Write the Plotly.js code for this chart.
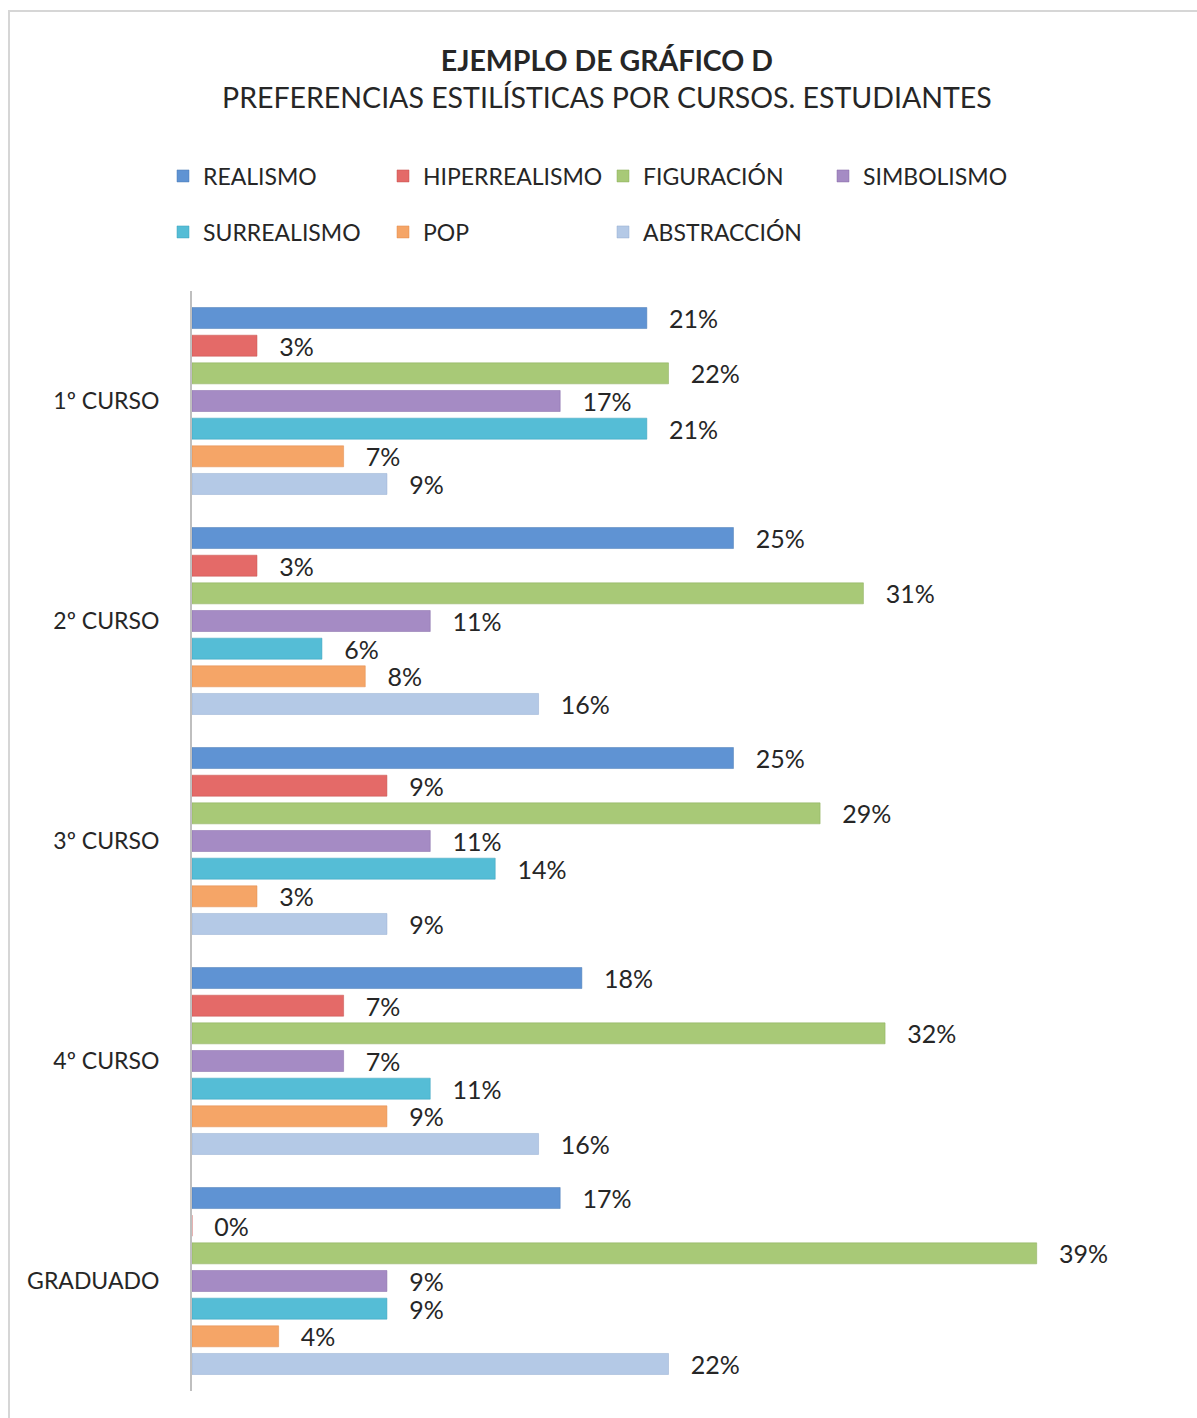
<!DOCTYPE html>
<html>
<head>
<meta charset="utf-8">
<script src="https://cdn.plot.ly/plotly-3.0.1.min.js"></script>
<style>
  html, body { margin: 0; padding: 0; background: #ffffff; }
  #wrap { position: relative; width: 1197px; height: 1418px; }
  #chart { width: 1197px; height: 1418px; }
  #frame { position: absolute; left: 8px; top: 10px; width: 1195px; height: 1420px;
           border: 2px solid #d6d6d6; box-sizing: border-box; pointer-events: none; }
</style>
</head>
<body>
<div id="wrap">
  <div id="chart"></div>
  <div id="frame"></div>
</div>
<script>
// ---- data ----
const categories = ['1º CURSO', '2º CURSO', '3º CURSO', '4º CURSO', 'GRADUADO'];
const seriesNames = ['REALISMO', 'HIPERREALISMO', 'FIGURACIÓN', 'SIMBOLISMO', 'SURREALISMO', 'POP', 'ABSTRACCIÓN'];
const realismo      = [21, 25, 25, 18, 17];
const hiperrealismo = [3, 3, 9, 7, 0];
const figuracion    = [22, 31, 29, 32, 39];
const simbolismo    = [17, 11, 11, 7, 9];
const surrealismo   = [21, 6, 14, 11, 9];
const pop           = [7, 8, 3, 9, 4];
const abstraccion   = [9, 16, 9, 16, 22];
const seriesValues = [realismo, hiperrealismo, figuracion, simbolismo, surrealismo, pop, abstraccion];

// ---- style ----
const colors = ['#5f93d3', '#e46a68', '#a8c977', '#a58bc4', '#55bdd6', '#f5a567', '#b4c9e6'];
const lineColors = ['#4a7ab5', '#c4504d', '#8aad5a', '#8468a6', '#3aa0ba', '#e08a4b', '#95acd0'];
const FONT = 'Lato, "Open Sans", "DejaVu Sans", sans-serif';
const TXT = '#262626';

const traces = seriesNames.map((name, i) => ({
  type: 'bar',
  orientation: 'h',
  name: name,
  y: categories,
  x: seriesValues[i],
  legend: i < 4 ? 'legend' : 'legend2',
  marker: { color: colors[i], line: { color: lineColors[i], width: 0.5 } },
  text: seriesValues[i].map(v => v + '%'),
  texttemplate: '\u00a0\u00a0\u00a0%{text}',
  textposition: 'outside',
  constraintext: 'none',
  cliponaxis: false,
  textfont: { family: FONT, size: 25, color: TXT },
  hoverinfo: 'name+x'
}));

const layout = {
  width: 1197,
  height: 1418,
  paper_bgcolor: '#ffffff',
  plot_bgcolor: '#ffffff',
  font: { family: FONT, color: TXT },
  margin: { l: 192, r: 52, t: 291, b: 27 },
  barmode: 'group',
  bargap: 0.12,
  bargroupgap: 0.24,
  showlegend: true,
  title: {
    text: '<b>EJEMPLO DE GRÁFICO D</b><br>PREFERENCIAS ESTILÍSTICAS POR CURSOS. ESTUDIANTES',
    font: { family: FONT, size: 28.5, color: TXT },
    x: 0.507, xref: 'container', xanchor: 'center',
    y: 1 - 71 / 1418, yref: 'container', yanchor: 'top'
  },
  xaxis: {
    range: [0, 44],
    showgrid: false,
    zeroline: false,
    showticklabels: false,
    showline: false,
    fixedrange: true
  },
  yaxis: {
    type: 'category',
    autorange: 'reversed',
    showgrid: false,
    zeroline: false,
    showline: true,
    linecolor: '#bfbfbf',
    linewidth: 2,
    ticks: '',
    ticklabelstandoff: 26,
    tickfont: { family: FONT, size: 23, color: TXT },
    fixedrange: true
  },
  legend: {
    orientation: 'h',
    xref: 'container', yref: 'container',
    x: 163 / 1197, xanchor: 'left',
    y: 1 - 176 / 1418, yanchor: 'middle',
    entrywidth: 175, entrywidthmode: 'pixels',
    font: { family: FONT, size: 23, color: TXT },
    bgcolor: 'rgba(0,0,0,0)',
    traceorder: 'normal'
  },
  legend2: {
    orientation: 'h',
    xref: 'container', yref: 'container',
    x: 163 / 1197, xanchor: 'left',
    y: 1 - 232 / 1418, yanchor: 'middle',
    entrywidth: 175, entrywidthmode: 'pixels',
    font: { family: FONT, size: 23, color: TXT },
    bgcolor: 'rgba(0,0,0,0)',
    traceorder: 'normal'
  }
};

Plotly.newPlot('chart', traces, layout, { displayModeBar: false, staticPlot: true });
</script>
</body>
</html>
